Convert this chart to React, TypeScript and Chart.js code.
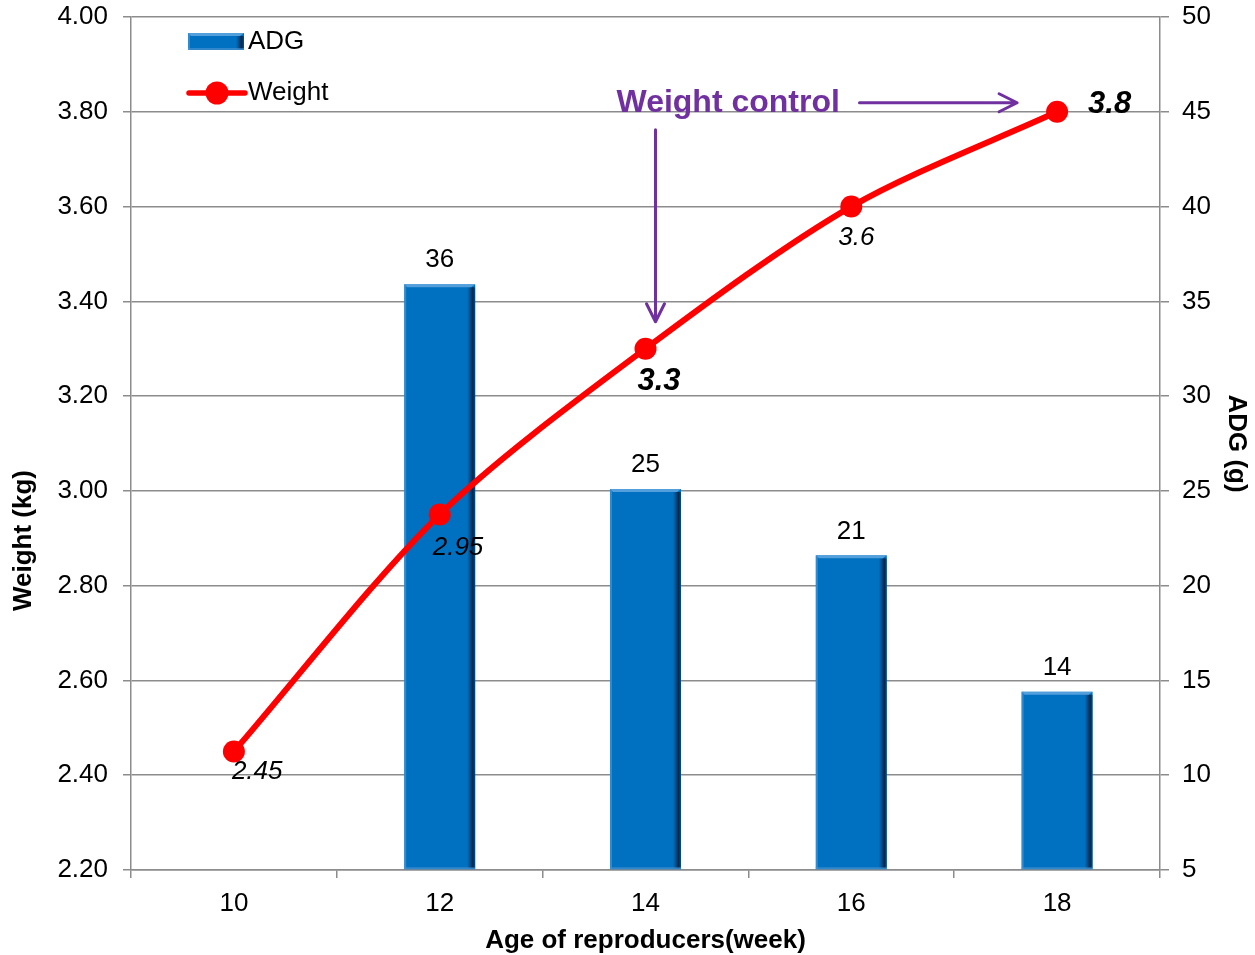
import React, { useEffect, useRef } from 'react';
import { Chart, registerables } from 'chart.js';

Chart.register(...registerables);

// ---------- data ----------
const categories = ['10', '12', '14', '16', '18'];
const adgValues: (number | null)[] = [null, 35.9, 25.1, 21.6, 14.4];
const adgLabels = ['', '36', '25', '21', '14'];
const weightValues = [2.45, 2.95, 3.3, 3.6, 3.8];
const weightLabels = ['2.45', '2.95', '3.3', '3.6', '3.8'];
const weightHighlighted = [false, false, true, false, true];
const weightTicks = [2.2, 2.4, 2.6, 2.8, 3.0, 3.2, 3.4, 3.6, 3.8, 4.0];
const adgTicks = [5, 10, 15, 20, 25, 30, 35, 40, 45, 50];
const xTitle = 'Age of reproducers(week)';
const yTitle = 'Weight (kg)';
const y1Title = 'ADG (g)';
const annotationText = 'Weight control';

// ---------- style ----------
const FONT = "'Liberation Sans', Arial, Helvetica, sans-serif";
const BLUE = '#0070C0';
const RED = '#FF0000';
const PURPLE = '#7030A0';
const GRID = '#8c8c8c';
// label offsets relative to each point (dx from point to text's left edge, dy to text middle)
const weightLabelOffsets = [
  [-2, 20],
  [-7, 33],
  [-8, 33],
  [-13, 31],
  [31, -7],
];

function drawBevel(ctx: CanvasRenderingContext2D, left: number, top: number, right: number, bottom: number) {
  const w = right - left;
  const h = bottom - top;
  ctx.save();
  const g = ctx.createLinearGradient(right - 8, 0, right, 0);
  g.addColorStop(0, 'rgba(0,40,80,0)');
  g.addColorStop(0.7, 'rgba(0,25,55,0.85)');
  g.addColorStop(1, 'rgba(0,60,110,0.6)');
  ctx.fillStyle = g;
  ctx.fillRect(right - 8, top + 3, 8, h - 4);
  ctx.fillStyle = 'rgba(110,175,230,0.75)';
  ctx.beginPath();
  ctx.moveTo(left, top);
  ctx.lineTo(right, top);
  ctx.lineTo(right - 4, top + 3);
  ctx.lineTo(left + 3, top + 3);
  ctx.closePath();
  ctx.fill();
  ctx.fillStyle = 'rgba(70,150,215,0.7)';
  ctx.fillRect(left, top, 2, h);
  ctx.fillStyle = 'rgba(80,150,210,0.6)';
  ctx.fillRect(left, bottom - 2, w, 2);
  ctx.restore();
}

const bevelPlugin = {
  id: 'bevel',
  afterDatasetDraw(chart: any, args: any) {
    if (args.meta.type !== 'bar') return;
    const ctx = chart.ctx;
    args.meta.data.forEach((el: any, i: number) => {
      if (adgValues[i] == null) return;
      const { x, y, base, width } = el.getProps(['x', 'y', 'base', 'width'], true);
      drawBevel(ctx, x - width / 2, y, x + width / 2, base);
    });
  },
};

const labelsPlugin = {
  id: 'labels',
  afterDatasetsDraw(chart: any) {
    const ctx = chart.ctx;
    ctx.save();
    ctx.fillStyle = '#000';
    // ADG labels
    const barMeta = chart.getDatasetMeta(0);
    ctx.font = `26px ${FONT}`;
    ctx.textAlign = 'center';
    ctx.textBaseline = 'middle';
    barMeta.data.forEach((el: any, i: number) => {
      if (adgValues[i] == null) return;
      const { x, y } = el.getProps(['x', 'y'], true);
      ctx.fillText(adgLabels[i], x, y - 24);
    });
    // Weight labels
    const lineMeta = chart.getDatasetMeta(1);
    ctx.textAlign = 'left';
    lineMeta.data.forEach((el: any, i: number) => {
      const { x, y } = el.getProps(['x', 'y'], true);
      ctx.font = weightHighlighted[i] ? `italic bold 31px ${FONT}` : `italic 26px ${FONT}`;
      const [dx, dy] = weightLabelOffsets[i];
      ctx.fillText(weightLabels[i], x + dx, y + dy);
    });
    ctx.restore();
  },
};

const legendPlugin = {
  id: 'customLegend',
  afterDraw(chart: any) {
    const ctx = chart.ctx;
    const { left, top, bottom } = chart.chartArea;
    const sx = left + 57;
    ctx.save();
    // ADG swatch
    const sy = top + 16;
    ctx.fillStyle = BLUE;
    ctx.fillRect(sx, sy, 56, 17);
    drawBevel(ctx, sx, sy, sx + 56, sy + 17);
    ctx.fillStyle = '#000';
    ctx.font = `26px ${FONT}`;
    ctx.textAlign = 'left';
    ctx.textBaseline = 'middle';
    ctx.fillText('ADG', sx + 60, sy + 9);
    // Weight swatch
    const ly = top + 76;
    ctx.strokeStyle = RED;
    ctx.lineWidth = 5.5;
    ctx.lineCap = 'round';
    ctx.beginPath();
    ctx.moveTo(sx + 1, ly);
    ctx.lineTo(sx + 57, ly);
    ctx.stroke();
    ctx.fillStyle = RED;
    ctx.beginPath();
    ctx.arc(sx + 29, ly, 11.5, 0, Math.PI * 2);
    ctx.fill();
    ctx.fillStyle = '#000';
    ctx.fillText('Weight', sx + 60, ly);

    // left axis title (placed lower than centre, as in the original)
    const ys = chart.scales.y;
    ctx.translate(ys.left + 24, (top + bottom) / 2 + 97);
    ctx.rotate(-Math.PI / 2);
    ctx.font = `bold 26px ${FONT}`;
    ctx.textAlign = 'center';
    ctx.textBaseline = 'middle';
    ctx.fillText(yTitle, 0, 0);
    ctx.restore();
  },
};

const annotationPlugin = {
  id: 'annotation',
  afterDraw(chart: any) {
    const ctx = chart.ctx;
    const xs = chart.scales.x;
    const ys = chart.scales.y;
    const x14 = xs.getPixelForValue(2);
    const x18 = xs.getPixelForValue(4);
    const y38 = ys.getPixelForValue(weightValues[4]);
    const y33 = ys.getPixelForValue(weightValues[2]);
    const ty = y38 - 9;
    ctx.save();
    ctx.fillStyle = PURPLE;
    ctx.font = `bold 32px ${FONT}`;
    ctx.textAlign = 'left';
    ctx.textBaseline = 'middle';
    ctx.fillText(annotationText, x14 - 29, ty);
    ctx.strokeStyle = PURPLE;
    ctx.lineWidth = 3;
    ctx.lineCap = 'round';
    ctx.lineJoin = 'round';
    // horizontal arrow
    const hx0 = x14 + 214;
    const hx1 = x18 - 40;
    ctx.beginPath();
    ctx.moveTo(hx0, ty);
    ctx.lineTo(hx1, ty);
    ctx.moveTo(hx1 - 18, ty - 9);
    ctx.lineTo(hx1, ty);
    ctx.lineTo(hx1 - 18, ty + 9);
    ctx.stroke();
    // vertical arrow
    const vx = x14 + 10;
    const vy0 = ty + 27;
    const vy1 = y33 - 27;
    ctx.beginPath();
    ctx.moveTo(vx, vy0);
    ctx.lineTo(vx, vy1);
    ctx.moveTo(vx - 9, vy1 - 18);
    ctx.lineTo(vx, vy1);
    ctx.lineTo(vx + 9, vy1 - 18);
    ctx.stroke();
    ctx.restore();
  },
};

export default function App() {
  const canvasRef = useRef<HTMLCanvasElement | null>(null);

  useEffect(() => {
    if (!canvasRef.current) return;
    Chart.defaults.font.family = FONT;
    Chart.defaults.color = '#000';
    const tickFont = { size: 26, family: FONT };
    const titleFont = { size: 26, weight: 'bold' as const, family: FONT, lineHeight: 1.1 };

    const chart = new Chart(canvasRef.current, {
      type: 'bar',
      data: {
        labels: categories,
        datasets: [
          {
            type: 'bar',
            label: 'ADG',
            data: adgValues as any,
            yAxisID: 'y1',
            backgroundColor: BLUE,
            borderWidth: 0,
            base: 5,
            categoryPercentage: 1,
            barPercentage: 0.345,
            order: 2,
          } as any,
          {
            type: 'line',
            label: 'Weight',
            data: weightValues,
            yAxisID: 'y',
            borderColor: RED,
            backgroundColor: RED,
            borderWidth: 6,
            borderCapStyle: 'round',
            pointRadius: 11,
            pointBorderWidth: 0,
            pointBackgroundColor: RED,
            tension: 0.3,
            fill: false,
            order: 1,
          } as any,
        ],
      },
      options: {
        responsive: false,
        animation: false,
        layout: { padding: { top: 17, left: 0, right: 0, bottom: 0 } },
        plugins: {
          legend: { display: false },
          tooltip: { enabled: false },
        },
        scales: {
          x: {
            type: 'category',
            offset: true,
            grid: {
              offset: true,
              drawOnChartArea: false,
              drawTicks: true,
              tickLength: 8,
              color: GRID,
              lineWidth: 1.5,
            },
            border: { color: GRID, width: 1.5 },
            ticks: { font: tickFont, color: '#000', padding: 10, maxRotation: 0 },
            title: { display: true, text: xTitle, font: titleFont, color: '#000', padding: { top: 0, bottom: 0 } },
            afterFit: (scale: any) => {
              scale.height = 85;
              scale.paddingLeft = 0;
              scale.paddingRight = 0;
            },
          },
          y: {
            position: 'left',
            min: 2.2,
            max: 4.0,
            afterBuildTicks: (scale: any) => {
              scale.ticks = weightTicks.map((v) => ({ value: v }));
            },
            grid: { color: GRID, lineWidth: 1.5, tickLength: 8, drawTicks: true },
            border: { color: GRID, width: 1.5 },
            ticks: {
              font: tickFont,
              color: '#000',
              padding: 15,
              callback: (v: any) => Number(v).toFixed(2),
            },
            title: { display: false, text: yTitle },
            afterFit: (scale: any) => {
              scale.width = 131;
              scale.paddingTop = 0;
              scale.paddingBottom = 0;
            },
          },
          y1: {
            position: 'right',
            min: 5,
            max: 50,
            afterBuildTicks: (scale: any) => {
              scale.ticks = adgTicks.map((v) => ({ value: v }));
            },
            grid: { drawOnChartArea: false, color: GRID, lineWidth: 1.5, tickLength: 9, drawTicks: true },
            border: { color: GRID, width: 1.5 },
            ticks: { font: tickFont, color: '#000', padding: 13 },
            title: { display: true, text: y1Title, font: titleFont, color: '#000', padding: { top: 5, bottom: 0 } },
            afterFit: (scale: any) => {
              scale.width = 95;
              scale.paddingTop = 0;
              scale.paddingBottom = 0;
            },
          },
        },
      },
      plugins: [bevelPlugin, labelsPlugin, legendPlugin, annotationPlugin],
    });
    return () => chart.destroy();
  }, []);

  return (
    <div style={{ position: 'fixed', left: 0, top: 0, width: 1255, height: 955, background: '#fff' }}>
      <canvas ref={canvasRef} width={1255} height={955} style={{ display: 'block', width: 1255, height: 955 }} />
    </div>
  );
}
